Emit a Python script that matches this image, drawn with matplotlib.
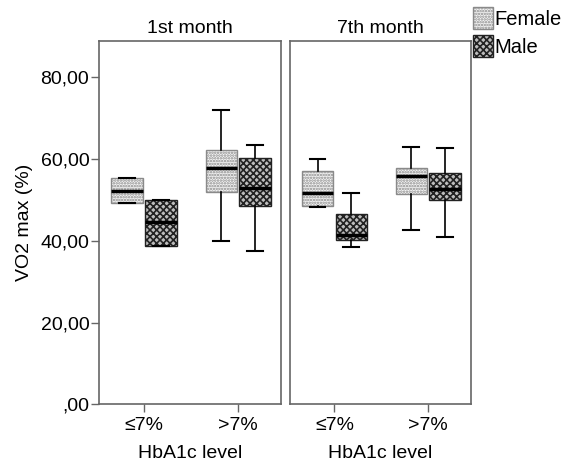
import matplotlib as mpl
mpl.use('Agg')
import matplotlib.pyplot as plt
from matplotlib.patches import Patch

plt.rcParams['font.family'] = ['Liberation Sans', 'DejaVu Sans']
plt.rcParams['hatch.linewidth'] = 1.2

# ---- data (whislo, q1, median, q3, whishi) ----
groups = ['\u22647%', '>7%']
panels = ['1st month', '7th month']

female_1st = [[49.2, 49.2, 52.3, 55.3, 55.3],
              [40.0, 51.9, 57.7, 62.2, 72.0]]
male_1st = [[38.7, 38.7, 44.6, 50.0, 50.0],
            [37.5, 48.5, 53.0, 60.2, 63.4]]
female_7th = [[48.2, 48.6, 51.7, 57.1, 60.1],
              [42.6, 51.5, 55.9, 57.9, 62.9]]
male_7th = [[38.6, 40.2, 41.5, 46.6, 51.7],
            [41.0, 50.0, 52.7, 56.7, 62.7]]

yticks = [0, 20, 40, 60, 80]
ytick_labels = [',00', '20,00', '40,00', '60,00', '80,00']


def to_stats(rows):
    out = []
    for r in rows:
        out.append(dict(whislo=r[0], q1=r[1], med=r[2], q3=r[3], whishi=r[4], fliers=[]))
    return out


fem_style = dict(face='#f4f4f4', edge='#8a8a8a', hatch='......')
male_style = dict(face='#bdbdbd', edge='#222222', hatch='xxxxx')

fig = plt.figure(figsize=(5.68, 4.70), dpi=100)
ax1 = fig.add_axes([0.1743, 0.1398, 0.3204, 0.7730])
ax2 = fig.add_axes([0.5100, 0.1398, 0.3187, 0.7730])

data = [(ax1, female_1st, male_1st), (ax2, female_7th, male_7th)]
off = 0.18
w = 0.335
for i, (ax, fem, mal) in enumerate(data):
    for vals, pos, st in [(fem, -off, fem_style), (mal, off, male_style)]:
        b = ax.bxp(to_stats(vals), positions=[p + pos for p in range(len(groups))],
                   widths=w, patch_artist=True, showfliers=False,
                   medianprops=dict(color='black', linewidth=2.5),
                   whiskerprops=dict(color='black', linewidth=1.2),
                   capprops=dict(color='black', linewidth=1.5),
                   capwidths=w * 0.5)
        for box in b['boxes']:
            box.set_facecolor(st['face'])
            box.set_edgecolor(st['edge'])
            box.set_hatch(st['hatch'])
            box.set_linewidth(1.0)
    ax.set_xlim(-0.477, 1.453)
    ax.set_ylim(0, 88.9)
    ax.set_xticks(range(len(groups)))
    ax.set_xticklabels(groups, fontsize=14)
    ax.set_xlabel('HbA1c level', fontsize=14, labelpad=8)
    ax.set_title(panels[i], fontsize=14, pad=6)
    for s in ax.spines.values():
        s.set_color('#666666')
        s.set_linewidth(1.2)
    ax.tick_params(axis='x', direction='out', length=6, width=1, color='#666666', pad=3)

ax1.set_yticks(yticks)
ax1.set_yticklabels(ytick_labels, fontsize=14)
ax1.tick_params(axis='y', direction='out', length=6, width=1, color='#666666', pad=1)
ax1.set_ylabel('VO2 max (%)', fontsize=14, labelpad=5)
ax2.set_yticks([])

handles = [Patch(facecolor=fem_style['face'], edgecolor=fem_style['edge'], hatch=fem_style['hatch']),
           Patch(facecolor=male_style['face'], edgecolor=male_style['edge'], hatch=male_style['hatch'])]
fig.legend(handles, ['Female', 'Male'], loc='upper left', bbox_to_anchor=(0.811, 1.01),
           frameon=False, fontsize=14.5, handlelength=1.0, handleheight=1.3,
           handletextpad=0.05, labelspacing=0.3, borderaxespad=0.2)

plt.savefig('out.png', dpi=100)
